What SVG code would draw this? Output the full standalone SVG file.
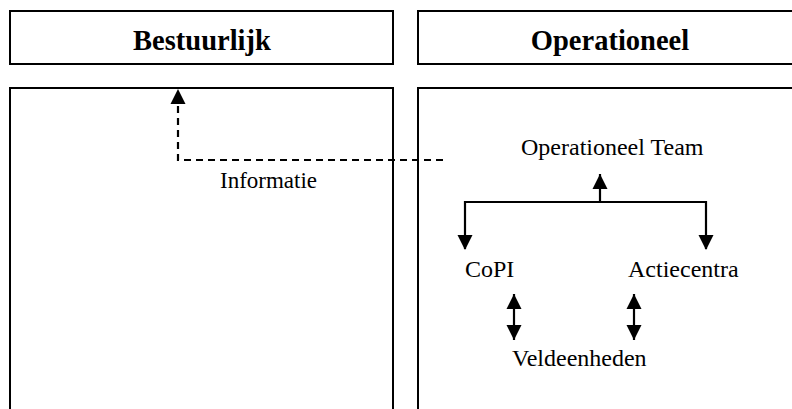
<svg xmlns="http://www.w3.org/2000/svg" width="792" height="409" viewBox="0 0 792 409">
<style>
.box{fill:#fff;stroke:#000;stroke-width:2}
.hdr{font-family:"Liberation Serif","Times New Roman",serif;font-weight:bold;font-size:28.5px;fill:#000;text-anchor:middle}
.lbl{font-family:"Liberation Serif","Times New Roman",serif;font-size:24px;fill:#000}
.ln{fill:none;stroke:#000;stroke-width:2.2}
.dash{fill:none;stroke:#000;stroke-width:2.2;stroke-dasharray:7 5}
</style>
<defs>
<marker id="ah" markerUnits="userSpaceOnUse" markerWidth="16" markerHeight="16" viewBox="0 0 16 16" refX="15" refY="8" orient="auto-start-reverse">
<path d="M0,0.5 L15,8 L0,15.5 Z" fill="#000"/>
</marker>
</defs>
<g id="hdr-bestuurlijk">
<rect class="box" x="10" y="11" width="383" height="53"/>
<text class="hdr" x="202" y="50">Bestuurlijk</text>
</g>
<g id="hdr-operationeel">
<rect class="box" x="418" y="11" width="390" height="53"/>
<text class="hdr" x="610" y="50">Operationeel</text>
</g>
<g id="panel-bestuurlijk">
<rect class="box" x="10" y="88" width="383" height="340"/>
</g>
<g id="panel-operationeel">
<rect class="box" x="418" y="88" width="390" height="340"/>
</g>
<g id="informatie">
<text class="lbl" x="220" y="188" style="font-size:23px">Informatie</text>
</g>
<g id="operationeel-team">
<text class="lbl" x="521" y="155">Operationeel Team</text>
</g>
<g id="copi">
<text class="lbl" x="465" y="277">CoPI</text>
</g>
<g id="actiecentra">
<text class="lbl" x="628" y="277">Actiecentra</text>
</g>
<g id="veldeenheden">
<text class="lbl" x="512" y="366">Veldeenheden</text>
</g>
<g id="connectors">
<path class="dash" d="M443,160 H178 V104"/>
<path d="M170.5,104 L178,89 L185.5,104 Z" fill="#000"/>
<path class="ln" d="M600,202 V174" marker-end="url(#ah)"/>
<path class="ln" d="M465,249 V202 H706 V249"/>
<path d="M457.5,235 L465,250 L472.5,235 Z" fill="#000"/>
<path d="M698.5,235 L706,250 L713.5,235 Z" fill="#000"/>
<path class="ln" d="M514,294 V340" marker-start="url(#ah)" marker-end="url(#ah)"/>
<path class="ln" d="M634,294 V340" marker-start="url(#ah)" marker-end="url(#ah)"/>
</g>
</svg>
